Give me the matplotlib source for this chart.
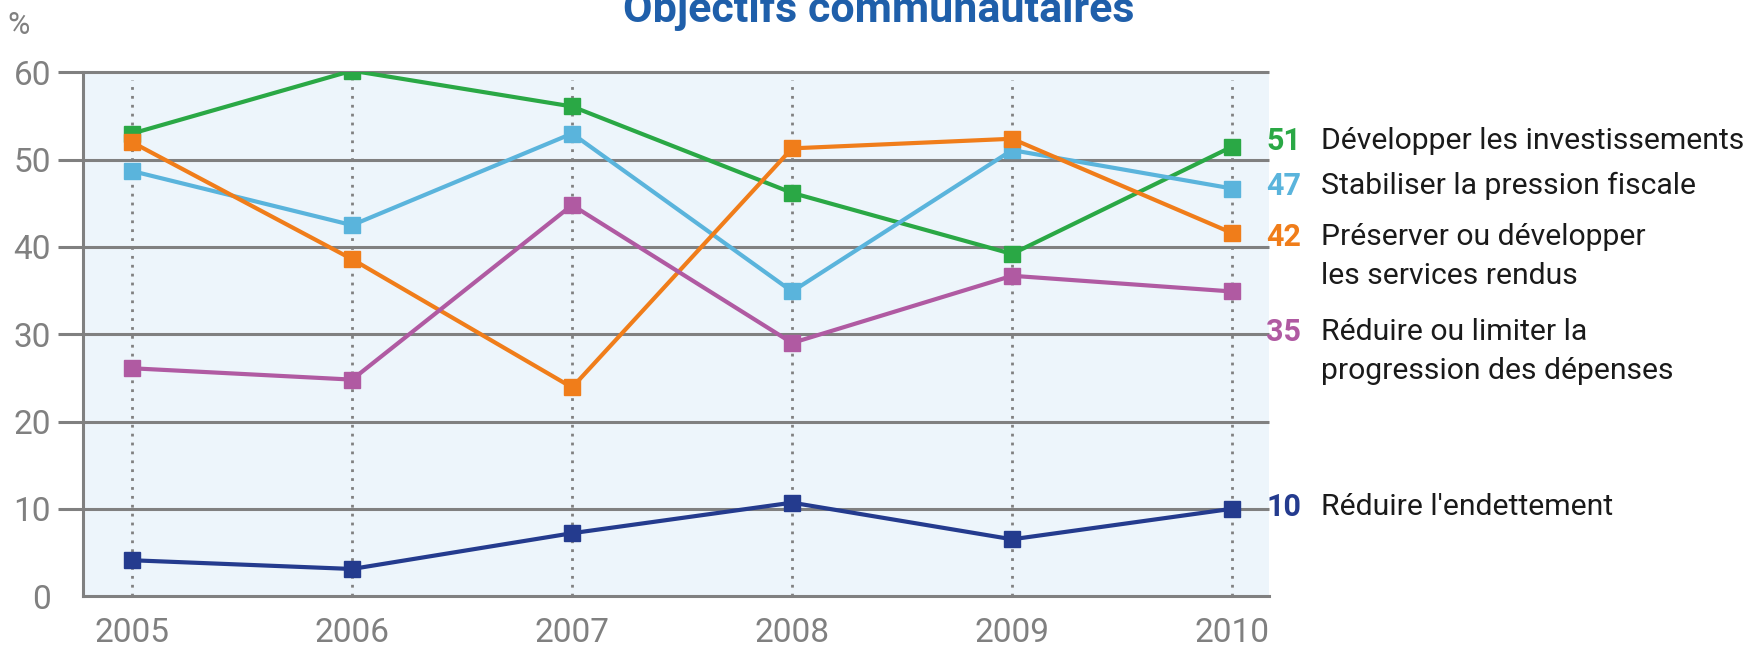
import matplotlib.pyplot as plt

# Data (% of communautés)
years = [2005, 2006, 2007, 2008, 2009, 2010]
investissements = [53.0, 60.2, 56.1, 46.2, 39.2, 51.5]
pression_fiscale = [48.7, 42.5, 53.0, 34.9, 51.1, 46.7]
services_rendus = [52.0, 38.6, 23.9, 51.3, 52.4, 41.6]
depenses = [26.1, 24.8, 44.8, 29.0, 36.7, 34.9]
endettement = [4.1, 3.1, 7.2, 10.7, 6.5, 10.0]

series = [investissements, pression_fiscale, services_rendus, depenses, endettement]
colors = ['#2aa845', '#5ab4dc', '#f07d1a', '#b05aa2', '#243b8e']
end_values = ['51', '47', '42', '35', '10']
labels = [['Développer les investissements'],
          ['Stabiliser la pression fiscale'],
          ['Préserver ou développer', 'les services rendus'],
          ['Réduire ou limiter la', 'progression des dépenses'],
          ["Réduire l'endettement"]]
label_y = [52.1, 47.0, 41.1, 30.2, 10.2]   # where the right-hand labels sit

plt.rcParams['font.family'] = ['Roboto', 'DejaVu Sans']
grey = '#808080'

fig = plt.figure(figsize=(17.48, 6.48), dpi=100)
ax = fig.add_axes([0.0475, 0.0802, 0.6785, 0.808])
ax.set_facecolor('#edf5fb')

for s, c in zip(series, colors):
    ax.plot(years, s, color=c, lw=3, marker='s', markersize=11, zorder=3)

ax.set_xlim(2004.777, 2010.168)
ax.set_ylim(0, 60)

# horizontal grid lines, poking out a bit to the left of the axis
ax.hlines(range(10, 61, 10), -0.021, 1, transform=ax.get_yaxis_transform(),
          color=grey, lw=2.2, clip_on=False, zorder=1)
for y in years:
    ax.axvline(y, ymax=0.985, color=grey, lw=2, ls=(0, (1, 2.2)), zorder=1)

for side in ['top', 'right']:
    ax.spines[side].set_visible(False)
for side in ['left', 'bottom']:
    ax.spines[side].set_color(grey)
    ax.spines[side].set_linewidth(2.2)

ax.set_xticks(years)
ax.set_yticks(range(0, 61, 10))
ax.tick_params(axis='both', length=0, colors=grey, labelsize=24)
ax.tick_params(axis='x', pad=15)
ax.tick_params(axis='y', pad=23)
ax.text(-0.064, 1.09, '%', transform=ax.transAxes, color=grey, fontsize=22,
        ha='left', va='center')

fig.text(0.503, 0.985, 'Objectifs communautaires', color='#1f5faa',
         fontsize=31, fontweight='bold', ha='center', va='center')

# labels at the right end of each line
for val, lines, y, c in zip(end_values, labels, label_y, colors):
    ax.annotate(val, xy=(1.0, y), xycoords=('axes fraction', 'data'),
                xytext=(-3, 0), textcoords='offset pixels', color=c,
                fontsize=22, fontweight='bold', ha='left', va='center')
    for i, line in enumerate(lines):
        ax.annotate(line, xy=(1.0, y), xycoords=('axes fraction', 'data'),
                    xytext=(52, -39 * i), textcoords='offset pixels',
                    color='#1a1a1a', fontsize=21.7, ha='left', va='center')

fig.savefig('out.png', dpi=100)
